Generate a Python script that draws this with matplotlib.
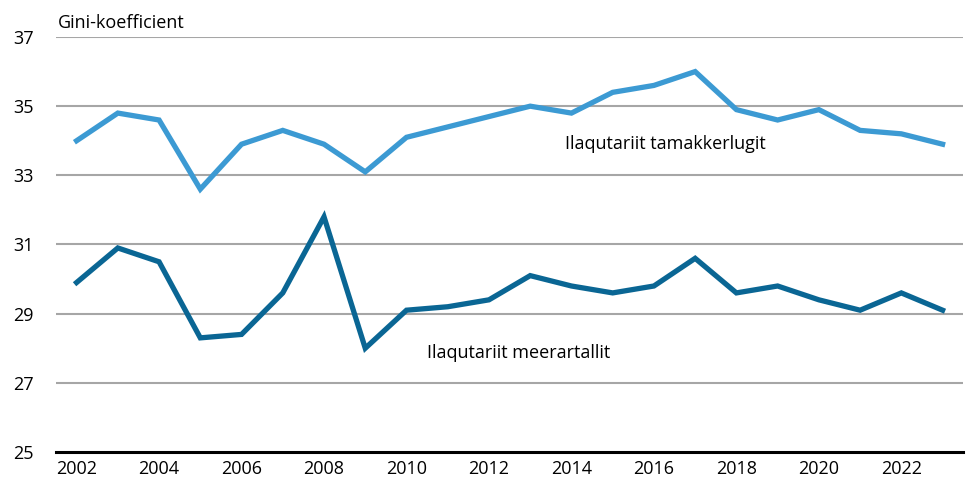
import matplotlib.pyplot as plt

plt.rcParams['font.family'] = ['Open Sans', 'DejaVu Sans']

years = list(range(2002, 2024))
tamakkerlugit = [34.0, 34.8, 34.6, 32.6, 33.9, 34.3, 33.9, 33.1, 34.1, 34.4, 34.7,
                 35.0, 34.8, 35.4, 35.6, 36.0, 34.9, 34.6, 34.9, 34.3, 34.2, 33.9]
meerartallit = [29.9, 30.9, 30.5, 28.3, 28.4, 29.6, 31.8, 28.0, 29.1, 29.2, 29.4,
                30.1, 29.8, 29.6, 29.8, 30.6, 29.6, 29.8, 29.4, 29.1, 29.6, 29.1]
yticks = [25, 27, 29, 31, 33, 35, 37]
xticks = list(range(2002, 2023, 2))

fig = plt.figure(figsize=(9.7, 4.87), dpi=100)
ax = fig.add_axes([0.0577, 0.0719, 0.9353, 0.8521])

for y in yticks[1:]:
    ax.axhline(y, color="#a6a6a6", linewidth=1.5, zorder=1)

ax.plot(years, tamakkerlugit, color="#3c9ad3", linewidth=3.8, zorder=3, solid_joinstyle="miter")
ax.plot(years, meerartallit, color="#0a6694", linewidth=3.8, zorder=3, solid_joinstyle="miter")

ax.text(2013.85, 33.9, "Ilaqutariit tamakkerlugit", fontsize=13, ha="left", va="center")
ax.text(2010.5, 27.85, "Ilaqutariit meerartallit", fontsize=13, ha="left", va="center")

ax.set_xlim(2001.5, 2023.5)
ax.set_ylim(25, 37)
ax.set_yticks(yticks)
ax.set_xticks(xticks)
ax.tick_params(axis="both", length=0, labelsize=13)
ax.tick_params(axis="y", pad=16)
ax.tick_params(axis="x", pad=6)

for side in ["top", "right", "left"]:
    ax.spines[side].set_visible(False)
ax.spines["bottom"].set_linewidth(2.2)
ax.spines["bottom"].set_color("black")

ax.text(2001.55, 37.15, "Gini-koefficient", fontsize=13, ha="left", va="bottom")

plt.savefig("out.png", dpi=100)
